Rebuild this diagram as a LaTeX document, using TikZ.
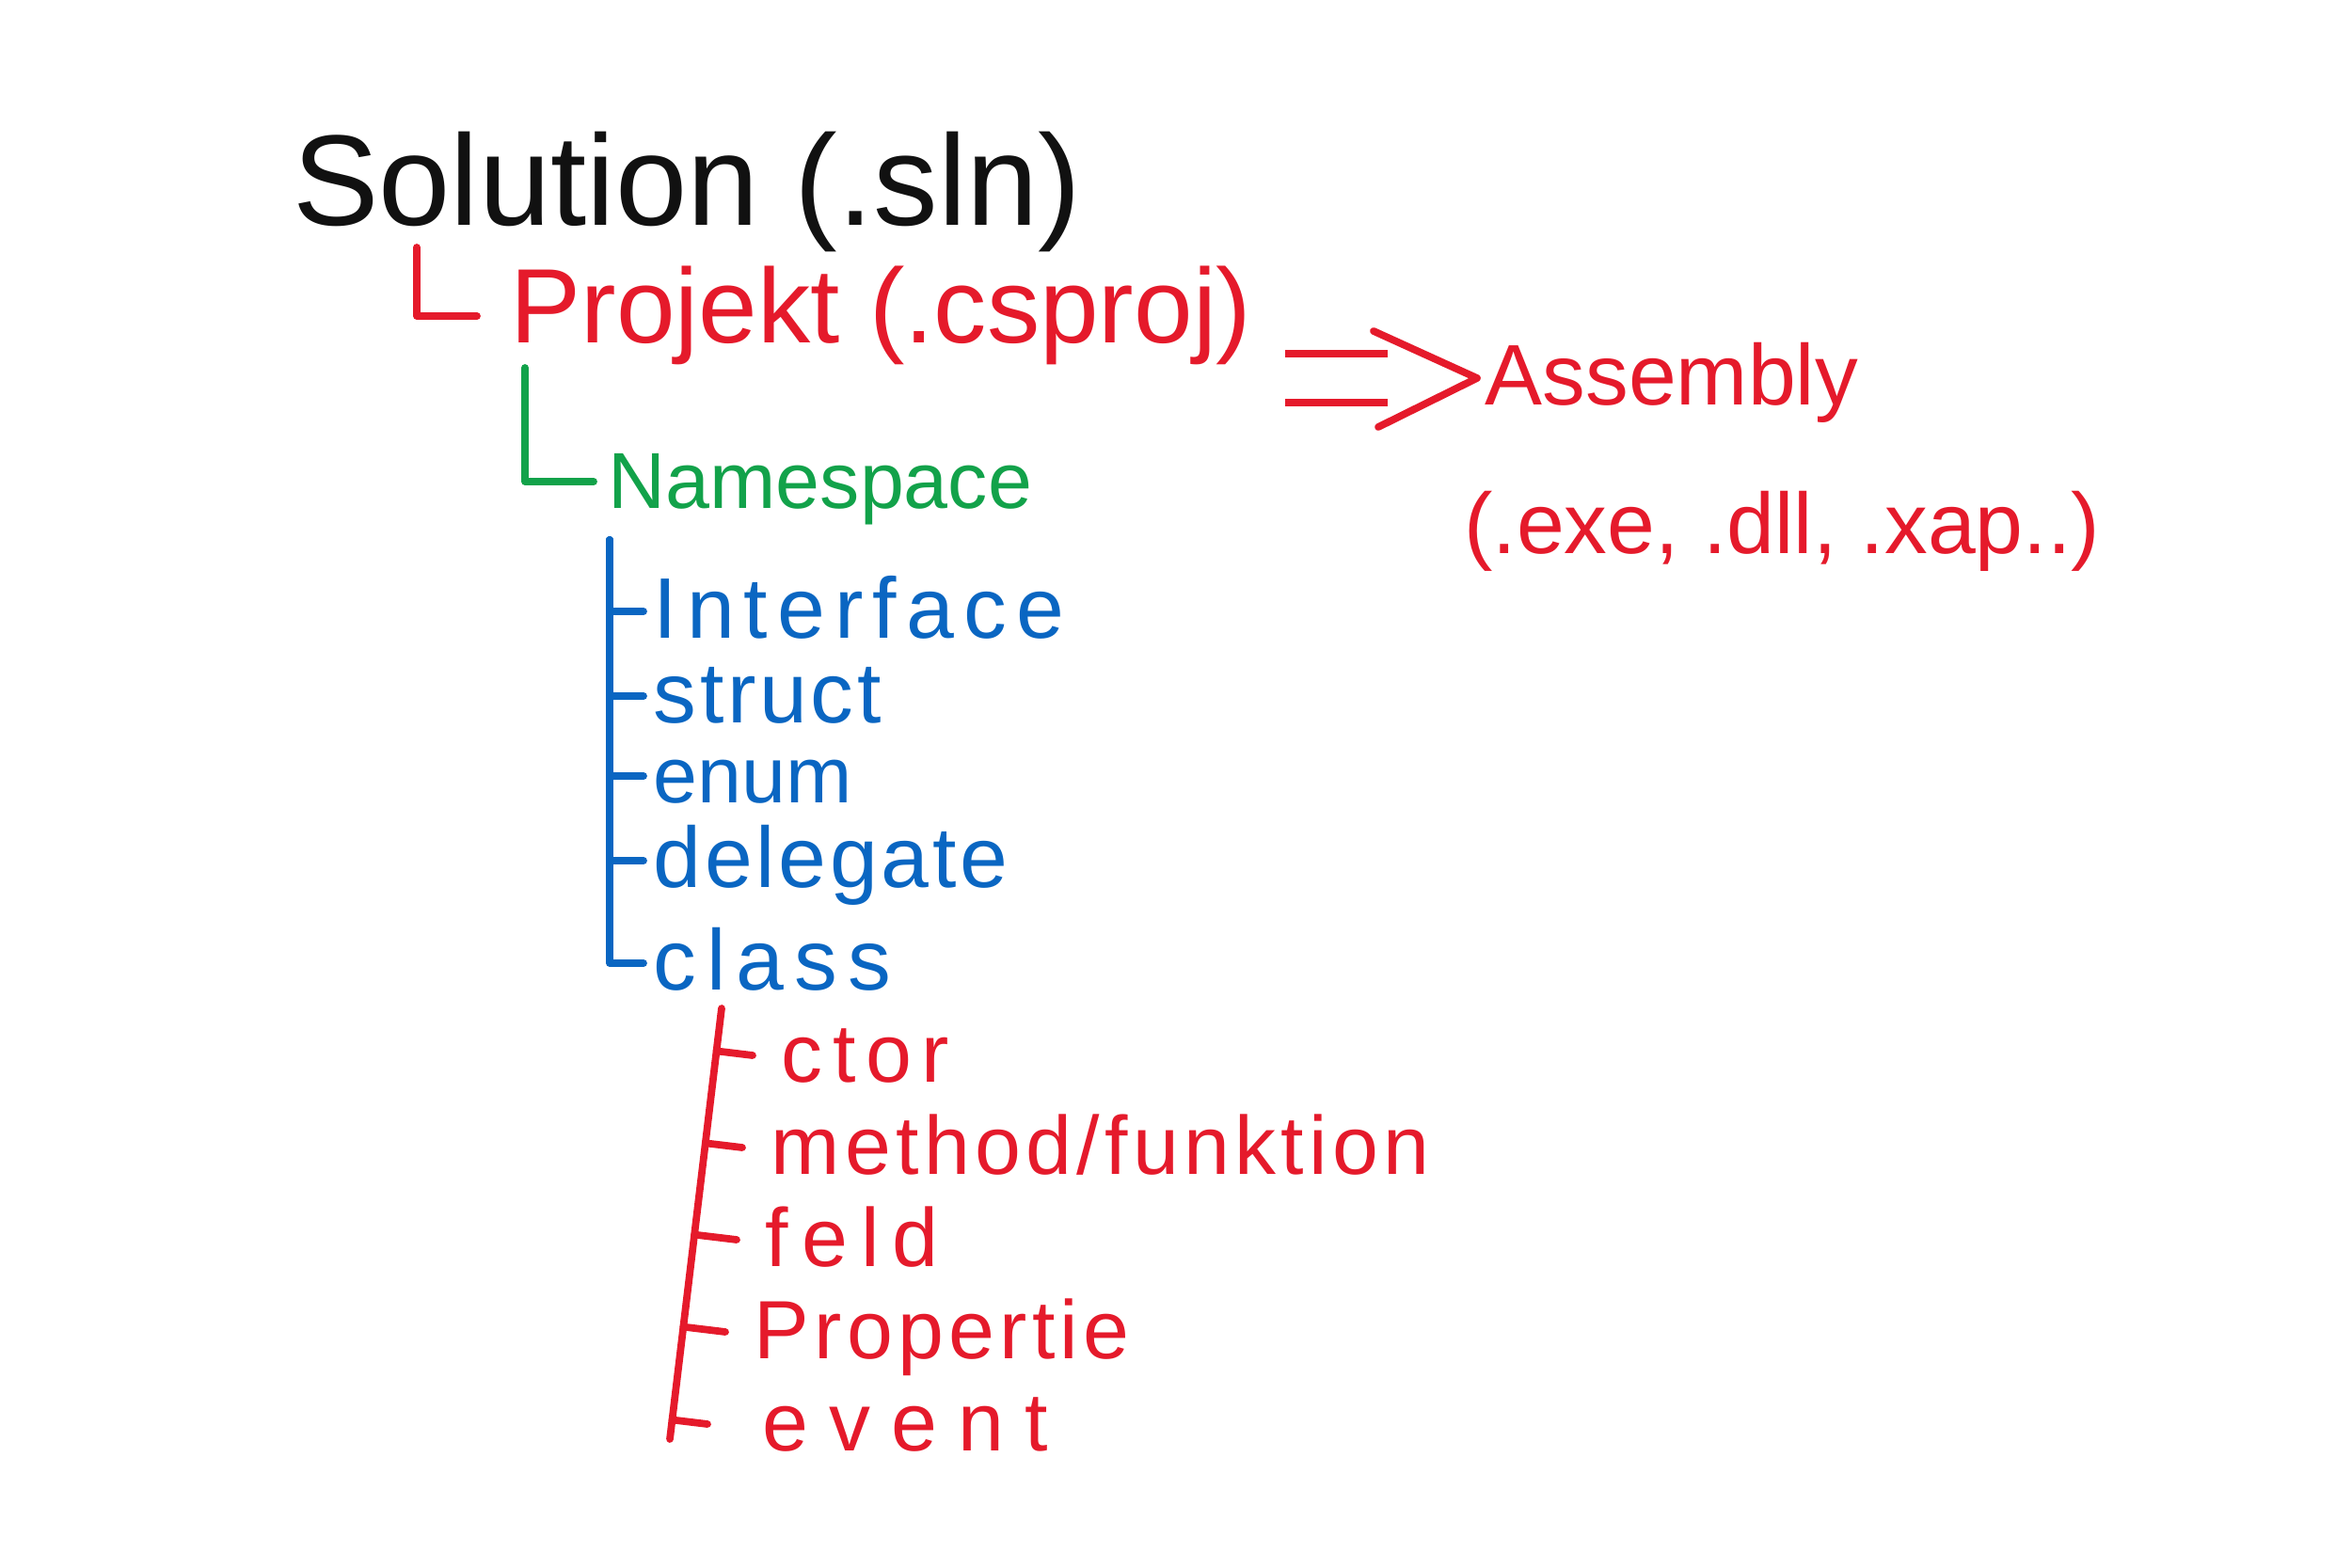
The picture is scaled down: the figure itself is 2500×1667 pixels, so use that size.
\documentclass[tikz,border=0pt]{standalone}
\usepackage{fontspec}
\setmainfont{Liberation Sans}
\usetikzlibrary{positioning,arrows.meta,calc}
\definecolor{inkBlack}{HTML}{111111}
\definecolor{inkRed}{HTML}{E51A2B}
\definecolor{inkGreen}{HTML}{12A24A}
\definecolor{inkBlue}{HTML}{0A66C2}
% size in pt, letter spacing
\newcommand{\penfont}[2]{\fontsize{#1pt}{#1pt}\selectfont\addfontfeatures{LetterSpace=#2}}
\tikzset{
    handtext/.style={anchor=west,inner ysep=0pt,inner xsep=1pt,
        text height=21pt,text depth=5pt},
    soltext/.style={handtext,text=inkBlack},
    projtext/.style={handtext,text=inkRed,inner xsep=0.35cm},
    nstext/.style={handtext,text=inkGreen,inner xsep=0.15cm},
    typetext/.style={handtext,text=inkBlue,inner xsep=0.1cm},
    membertext/.style={handtext,text=inkRed,inner xsep=0.3cm,
        text height=19pt,text depth=3pt},
    penline/.style={line width=2.2pt,line cap=round,line join=round},
    redline/.style={penline,draw=inkRed},
    greenline/.style={penline,draw=inkGreen},
    blueline/.style={penline,draw=inkBlue},
    buildlines/.style={draw=inkRed,line width=2.2pt,double,double distance=4.4mm,
        line cap=butt,shorten >=0.95cm}
}
\begin{document}
\begin{tikzpicture}[x=0.01cm,y=-0.01cm]
    \fill[white] (0,0) rectangle (2500,1667);
    \useasboundingbox (0,0) rectangle (2500,1667);
    % solution / project / assembly
    \node[soltext,font=\penfont{39}{0}] (sol) at (307,211) {Solution (.sln)};
    \node[projtext,font=\penfont{32}{0}] (proj) at (507,336) {Projekt (.csproj)};
    \node[handtext,text=inkRed,inner xsep=0.08cm,font=\penfont{26}{0}] (asm) at (1570,402) {Assembly};
    \node[handtext,text=inkRed,font=\penfont{26}{0}] (ext) at (1552,560) {(.exe, .dll, .xap..)};
    \coordinate (projtop) at (443,263);
    \draw[redline] (projtop) |- (proj.west);
    \coordinate (arrstart) at (proj.east |- asm.west);
    \draw[buildlines] (arrstart) -- (asm.west);
    \draw[redline] ($(asm.west)+(-110,-50)$) -- (asm.west) -- ($(asm.west)+(-105,52)$);
    % namespace
    \node[nstext,font=\penfont{24}{0}] (ns) at (631,512) {Namespace};
    \coordinate (nstop) at (558,391);
    \draw[greenline] (nstop) |- (ns.west);
    % types
    \node[typetext,font=\penfont{26}{11}] (iface) at (684,650) {Interface};
    \node[typetext,font=\penfont{26}{4}] (struct) at (684,740) {struct};
    \node[typetext,font=\penfont{24}{0}] (enum) at (684,825) {enum};
    \node[typetext,font=\penfont{26}{4}] (deleg) at (684,915) {delegate};
    \node[typetext,font=\penfont{26}{12}] (class) at (684,1024) {class};
    \coordinate (typetop) at (648,574);
    \draw[blueline] (typetop) |- (iface.west);
    \draw[blueline] (typetop) |- (struct.west);
    \draw[blueline] (typetop) |- (enum.west);
    \draw[blueline] (typetop) |- (deleg.west);
    \draw[blueline] (typetop) |- (class.west);
    % class members
    \node[membertext,font=\penfont{25}{12}] (ctor) at (800,1122) {ctor};
    \node[membertext,font=\penfont{25}{6}] (meth) at (789,1220) {method/funktion};
    \node[membertext,font=\penfont{25}{16}] (feld) at (783,1318) {feld};
    \node[membertext,font=\penfont{25}{6}] (prop) at (771,1416) {Propertie};
    \node[membertext,inner xsep=0.58cm,font=\penfont{25}{25}] (event) at (752,1514) {event};
    \coordinate (membtop) at (767,1072);
    \coordinate (membbot) at (712,1530);
    \draw[redline] (membtop) -- (membbot);
    \draw[redline] ($(membtop)!(ctor.west)!(membbot)$) -- (ctor.west);
    \draw[redline] ($(membtop)!(meth.west)!(membbot)$) -- (meth.west);
    \draw[redline] ($(membtop)!(feld.west)!(membbot)$) -- (feld.west);
    \draw[redline] ($(membtop)!(prop.west)!(membbot)$) -- (prop.west);
    \draw[redline] ($(membtop)!(event.west)!(membbot)$) -- (event.west);
\end{tikzpicture}
\end{document}
